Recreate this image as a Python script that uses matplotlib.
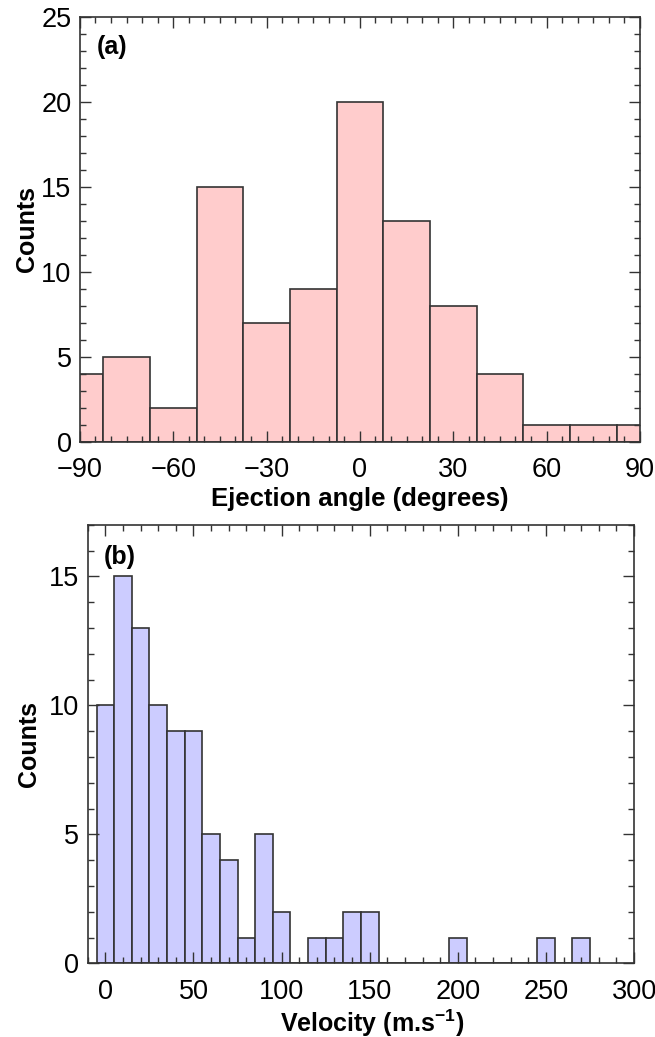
import matplotlib
matplotlib.use('Agg')
import matplotlib.pyplot as plt
from matplotlib.ticker import MultipleLocator

plt.rcParams['font.family'] = ['Liberation Sans', 'DejaVu Sans']
plt.rcParams['mathtext.fontset'] = 'custom'
plt.rcParams['mathtext.rm'] = 'Liberation Sans:bold'
plt.rcParams['mathtext.bf'] = 'Liberation Sans:bold'
plt.rcParams['mathtext.default'] = 'bf'

# (a) ejection angle histogram, bins 15 deg wide centred on multiples of 15
angle_centers = [-90, -75, -60, -45, -30, -15, 0, 15, 30, 45, 60, 75, 90]
angle_counts = [4, 5, 2, 15, 7, 9, 20, 13, 8, 4, 1, 1, 1]

# (b) velocity histogram, bins 10 m/s wide centred on multiples of 10
vel_centers = [0, 10, 20, 30, 40, 50, 60, 70, 80, 90, 100, 110, 120, 130, 140,
               150, 160, 170, 180, 190, 200, 210, 220, 230, 240, 250, 260, 270]
vel_counts = [10, 15, 13, 10, 9, 9, 5, 4, 1, 5, 2, 0, 1, 1, 2,
              2, 0, 0, 0, 0, 1, 0, 0, 0, 0, 1, 0, 1]

edge = '#333333'
fig = plt.figure(figsize=(6.55, 10.37), dpi=100)

ax1 = fig.add_axes([0.122, 0.574, 0.855, 0.410])
ax1.bar(angle_centers, angle_counts, width=15, color='#ffcccc', edgecolor=edge, linewidth=1.2)
ax1.set_xlim(-90, 90)
ax1.set_ylim(0, 25)
ax1.xaxis.set_major_locator(MultipleLocator(30))
ax1.xaxis.set_minor_locator(MultipleLocator(5))
ax1.yaxis.set_major_locator(MultipleLocator(5))
ax1.yaxis.set_minor_locator(MultipleLocator(1))
ax1.set_xlabel('Ejection angle (degrees)', fontsize=18.5, fontweight='bold', labelpad=3)
ax1.set_ylabel('Counts', fontsize=18, fontweight='bold', labelpad=2)
ax1.text(0.03, 0.929, '(a)', transform=ax1.transAxes, fontsize=18, fontweight='bold', va='center')

ax2 = fig.add_axes([0.134, 0.071, 0.834, 0.423])
ax2.bar(vel_centers, vel_counts, width=10, color='#ccccff', edgecolor=edge, linewidth=1.2)
ax2.set_xlim(-10, 300)
ax2.set_ylim(0, 17)
ax2.xaxis.set_major_locator(MultipleLocator(50))
ax2.xaxis.set_minor_locator(MultipleLocator(10))
ax2.yaxis.set_major_locator(MultipleLocator(5))
ax2.yaxis.set_minor_locator(MultipleLocator(1))
ax2.set_xlabel('Velocity (m.s$^{-1}$)', fontsize=18, fontweight='bold')
ax2.xaxis.set_label_coords(0.52, -0.1)
ax2.set_ylabel('Counts', fontsize=18, fontweight='bold', labelpad=6)
ax2.text(0.03, 0.927, '(b)', transform=ax2.transAxes, fontsize=18, fontweight='bold', va='center')

for ax in (ax1, ax2):
    for s in ax.spines.values():
        s.set_color(edge)
        s.set_linewidth(1.2)
    ax.tick_params(which='both', direction='in', top=True, right=True, color=edge, width=1.0)
    ax.tick_params(which='major', length=8, labelsize=19.5)
    ax.tick_params(which='minor', length=4)
    ax.tick_params(axis='x', which='major', pad=11)
    ax.tick_params(axis='y', which='major', pad=6)

fig.savefig('out.png', dpi=100)
